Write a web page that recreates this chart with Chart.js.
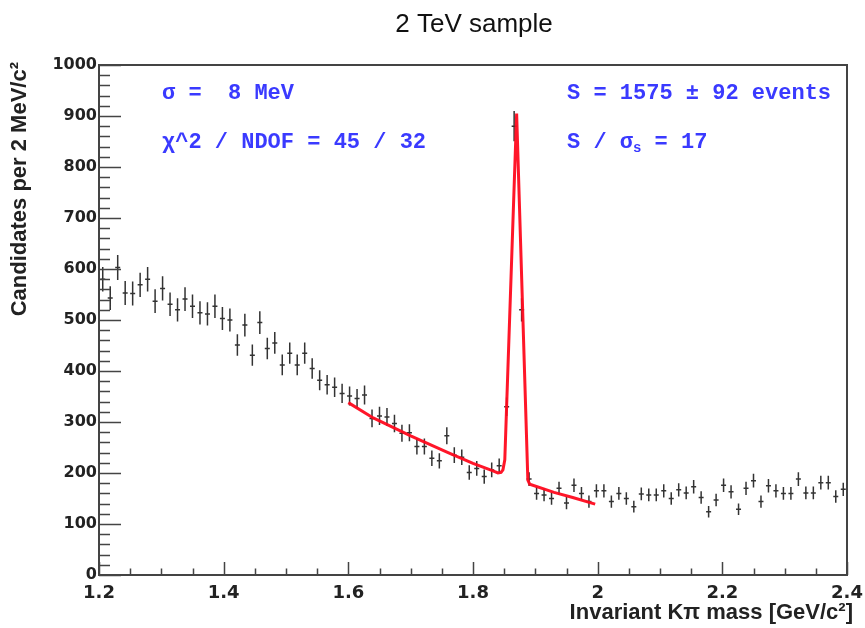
<!DOCTYPE html>
<html><head><meta charset="utf-8">
<script src="https://cdn.jsdelivr.net/npm/chart.js@4"></script>
<style>html,body{margin:0;padding:0;background:#fff}canvas{display:block}</style>
</head><body>
<div style="width:865px;height:628px;position:relative"><canvas id="c" width="865" height="628"></canvas></div>
<script>
// ---- data ----
const binLow = 1.2;
const binWidth = 0.012;
const counts = [
  580,543,603,553,552,569,580,537,562,531,
  520,541,527,514,512,527,503,500,451,490,
  431,495,444,455,412,435,412,435,405,382,
  373,368,356,351,346,353,307,312,310,297,
  278,279,252,252,229,224,273,235,231,201,
  209,193,206,214,330,880,520,188,160,157,
  150,170,141,176,160,144,165,165,144,160,
  150,134,159,157,157,165,150,167,161,173,
  152,124,147,176,163,129,170,185,144,175,
  165,160,160,188,161,161,181,181,154,168
];
const fitX = [1.600,1.640,1.700,1.760,1.800,1.830,1.840,1.845,1.848,1.851,1.870,1.888,1.891,1.930,1.960,1.996];
const fitY = [338,308,273,240,219,205,200,201,206,226,905,186,178,162,152,139];
const xTicks = [1.2,1.4,1.6,1.8,2.0,2.2,2.4];
const yTicks = [0,100,200,300,400,500,600,700,800,900,1000];
const xMinorStep = 0.05;
const yMinorStep = 20;
const titleText = '2 TeV sample';
const xTitle = 'Invariant K\u03c0 mass [GeV/c\u00b2]';
const yTitle = 'Candidates per 2 MeV/c\u00b2';

const points = counts.map((c,i)=>({x: binLow + binWidth*(i+0.5), y: c}));
const fitPts = fitX.map((x,i)=>({x, y: fitY[i]}));

const rootPlugin = {
  id: 'rootStyle',
  beforeDatasetsDraw(chart) {
    const ctx = chart.ctx, xs = chart.scales.x, ys = chart.scales.y;
    ctx.save();
    ctx.strokeStyle = '#333';
    ctx.lineWidth = 1.5;
    ctx.beginPath();
    points.forEach(p => {
      const px = xs.getPixelForValue(p.x);
      const e = Math.sqrt(p.y);
      const y1 = ys.getPixelForValue(p.y - e), y2 = ys.getPixelForValue(p.y + e);
      const py = ys.getPixelForValue(p.y);
      ctx.moveTo(px, y1); ctx.lineTo(px, y2);
      ctx.moveTo(px - 2.5, py); ctx.lineTo(px + 2.5, py);
    });
    ctx.stroke();
    ctx.restore();
  },
  afterDraw(chart) {
    const ctx = chart.ctx, a = chart.chartArea, xs = chart.scales.x, ys = chart.scales.y;
    ctx.save();
    // frame
    ctx.strokeStyle = '#444';
    ctx.lineWidth = 2;
    ctx.strokeRect(a.left, a.top, a.right - a.left, a.bottom - a.top);
    // ticks
    ctx.lineWidth = 1.5;
    ctx.beginPath();
    for (let v = 0; v <= 1000 + 1e-9; v += yMinorStep) {
      const py = Math.round(ys.getPixelForValue(v)) + 0.5;
      const major = yTicks.includes(Math.round(v));
      ctx.moveTo(a.left, py); ctx.lineTo(a.left + (major ? 22 : 11), py);
    }
    for (let k = 0; k * xMinorStep <= 1.2 + 1e-9; k++) {
      const v = 1.2 + k * xMinorStep;
      const px = Math.round(xs.getPixelForValue(v)) + 0.5;
      const major = (k % 4) === 0;
      ctx.moveTo(px, a.bottom); ctx.lineTo(px, a.bottom - (major ? 13 : 6.5));
    }
    ctx.stroke();
    // title
    ctx.fillStyle = '#111';
    ctx.textBaseline = 'middle';
    ctx.textAlign = 'center';
    ctx.font = '26px "Liberation Sans", Arial, sans-serif';
    ctx.fillText(titleText, 474, 25);
    // axis titles
    ctx.font = 'bold 22px "Liberation Sans", Arial, sans-serif';
    ctx.fillStyle = '#222';
    ctx.textAlign = 'right';
    ctx.fillText(xTitle, 853, 613);
    ctx.save();
    ctx.translate(20, 62);
    ctx.rotate(-Math.PI/2);
    ctx.textAlign = 'right';
    ctx.fillText(yTitle, 0, 0);
    ctx.restore();
    // annotations
    ctx.fillStyle = '#3a3aff';
    ctx.textAlign = 'left';
    ctx.font = 'bold 22px "Liberation Mono", "DejaVu Sans Mono", monospace';
    ctx.fillText('\u03c3 =  8 MeV', 162, 93);
    ctx.fillText('\u03c7^2 / NDOF = 45 / 32', 162, 142);
    ctx.fillText('S = 1575 \u00b1 92 events', 567, 93);
    let x0 = 567;
    const s1 = 'S / \u03c3';
    ctx.fillText(s1, x0, 142);
    x0 += ctx.measureText(s1).width;
    ctx.font = 'bold 14px "Liberation Mono", "DejaVu Sans Mono", monospace';
    ctx.fillText('s', x0, 148);
    x0 += ctx.measureText('s').width;
    ctx.font = 'bold 22px "Liberation Mono", "DejaVu Sans Mono", monospace';
    ctx.fillText(' = 17', x0, 142);
    ctx.restore();
  }
};

new Chart(document.getElementById('c'), {
  type: 'scatter',
  data: {
    datasets: [
      { label: 'data', data: points, pointRadius: 0, showLine: false, borderColor: '#333' },
      { label: 'fit', data: fitPts, showLine: true, borderColor: 'rgba(255,10,30,0.95)', borderWidth: 3, pointRadius: 0, tension: 0, fill: false }
    ]
  },
  options: {
    responsive: false,
    animation: false,
    devicePixelRatio: 1,
    layout: { padding: { left: 0, top: 65, right: 18, bottom: 0 } },
    plugins: { legend: { display: false }, tooltip: { enabled: false }, title: { display: false } },
    scales: {
      x: {
        type: 'linear', min: 1.2, max: 2.4,
        afterBuildTicks: s => { s.ticks = xTicks.map(v => ({ value: v })); },
        afterFit: s => { s.height = 53; },
        grid: { display: false }, border: { display: false },
        ticks: { autoSkip: false, maxRotation: 0, padding: 0, color: '#222',
          font: { family: '"DejaVu Sans"', weight: 'bold', size: 18 },
          callback: v => String(+Number(v).toFixed(1)) }
      },
      y: {
        type: 'linear', min: 0, max: 1000,
        afterBuildTicks: s => { s.ticks = yTicks.map(v => ({ value: v })); },
        afterFit: s => { s.width = 99; },
        grid: { display: false }, border: { display: false },
        ticks: { autoSkip: false, padding: -6, color: '#222',
          font: { family: '"DejaVu Sans"', weight: 'bold', size: 16 },
          callback: v => String(v) }
      }
    }
  },
  plugins: [rootPlugin]
});
</script>
</body></html>
